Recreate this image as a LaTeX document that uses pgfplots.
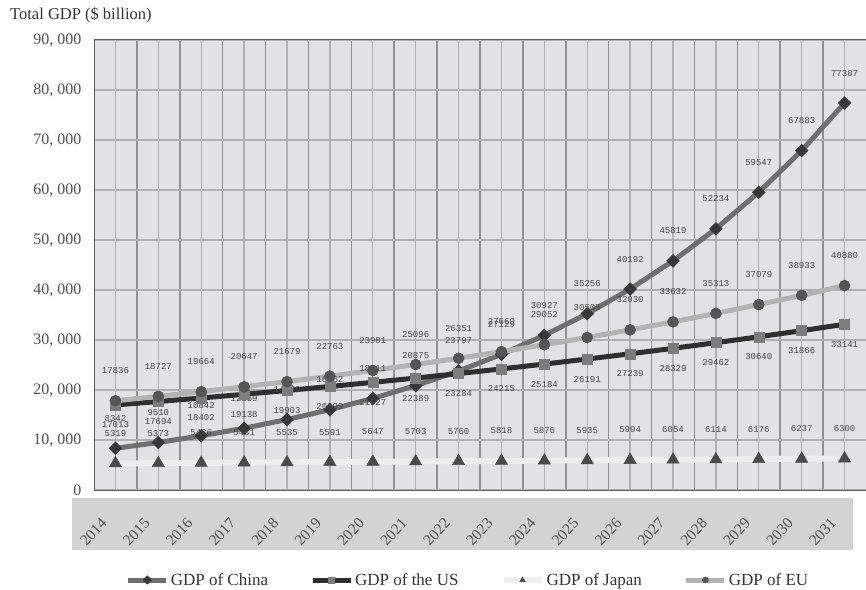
\documentclass[border=0pt]{standalone}
\usepackage{fontspec}
\setmainfont{Liberation Serif}
\setmonofont{Liberation Mono}
\usepackage{pgfplots}
\pgfplotsset{compat=1.18}
\usepackage{pgfplotstable}

\definecolor{plotbg}{HTML}{E2E2E4}
\definecolor{bandgray}{HTML}{D3D3D3}
\definecolor{gridlight}{HTML}{B0B0B2}
\definecolor{griddark}{HTML}{909092}
\definecolor{axisgray}{HTML}{5E5E5E}
\definecolor{tickgray}{HTML}{505050}
\definecolor{titlegray}{HTML}{333333}
\definecolor{labelgray}{HTML}{454545}
\definecolor{chinaline}{HTML}{6F6F6F}
\definecolor{chinamark}{HTML}{383838}
\definecolor{usline}{HTML}{2F2F2F}
\definecolor{usmark}{HTML}{7C7C7C}
\definecolor{japanline}{HTML}{EEEEEE}
\definecolor{japanmark}{HTML}{4A4A4A}
\definecolor{euline}{HTML}{B3B3B3}
\definecolor{eumark}{HTML}{555555}

% GDP in $ billion, year index 0 = 2014
\pgfplotstableread{
idx china us japan eu
0 8342 17013 5319 17836
1 9510 17694 5373 18727
2 10842 18402 5426 19664
3 12359 19138 5481 20647
4 14089 19903 5535 21679
5 16062 20699 5591 22763
6 18311 21527 5647 23901
7 20875 22389 5703 25096
8 23797 23284 5760 26351
9 27129 24215 5818 27669
10 30927 25184 5876 29052
11 35256 26191 5935 30505
12 40192 27239 5994 32030
13 45819 28329 6054 33632
14 52234 29462 6114 35313
15 59547 30640 6176 37079
16 67883 31866 6237 38933
17 77387 33141 6300 40880
}\gdp

\newcommand\labelfont{\ttfamily\fontsize{9}{9}\selectfont}

\begin{document}
\begin{tikzpicture}
\useasboundingbox (0pt,0pt) rectangle (866pt,589pt);

% title
\node[anchor=west, font=\fontsize{16.5}{20}\selectfont, text=titlegray, inner sep=0pt]
  at (10pt,574pt) {Total GDP (\$ billion)};

% band behind the year labels
\fill[bandgray] (72pt,39pt) rectangle (853pt,91pt);

\begin{axis}[
  at={(94pt,99pt)}, anchor=south west,
  scale only axis, width=772pt, height=450pt,
  xmin=-0.5, xmax=17.5, ymin=0, ymax=90000,
  clip=false,
  axis background/.style={fill=plotbg},
  xtick={0,1,2,3,4,5,6,7,8,9,10,11,12,13,14,15,16,17},
  xticklabels={2014,2015,2016,2017,2018,2019,2020,2021,2022,2023,2024,2025,2026,2027,2028,2029,2030,2031},
  minor xtick={0.5,1.5,2.5,3.5,4.5,5.5,6.5,7.5,8.5,9.5,10.5,11.5,12.5,13.5,14.5,15.5,16.5},
  ytick={0,10000,20000,30000,40000,50000,60000,70000,80000,90000},
  yticklabels={0,{10, 000},{20, 000},{30, 000},{40, 000},{50, 000},{60, 000},{70, 000},{80, 000},{90, 000}},
  scaled y ticks=false,
  grid=both,
  major grid style={draw=gridlight, line width=1.4pt},
  minor grid style={draw=griddark, line width=1.6pt},
  tick style={draw=none},
  axis line style={draw=axisgray, line width=1pt},
  yticklabel style={font=\fontsize{16}{16}\selectfont, text=tickgray, xshift=-9pt},
  xticklabel style={font=\fontsize{15.5}{15.5}\selectfont, text=tickgray, xshift=-9pt, yshift=-28pt, rotate=47, anchor=east},
  point meta=explicit symbolic,
  nodes near coords,
  legend columns=4,
  legend style={at={(0.4845,-0.2)}, anchor=center, draw=none, fill=none,
    font=\fontsize{17}{19}\selectfont, text=titlegray,
    /tikz/every even column/.append style={column sep=40pt}},
  legend image code/.code={
    \draw[mark repeat=2, mark phase=2, #1, mark size=3pt]
      plot coordinates {(0pt,0pt) (19pt,0pt) (38pt,0pt)};
  },
]

% China
\addplot[draw=chinaline, line width=5pt, mark=square*, mark size=4.5pt,
  mark options={rotate=45, fill=chinamark, draw=chinamark, line width=0.5pt},
  every node near coord/.append style={anchor=center, yshift=30pt, font=\labelfont, text=labelgray}]
  table[x=idx, y=china, meta=china] {\gdp};
\addlegendentry{GDP of China}

% United States
\addplot[draw=usline, line width=5pt, mark=square*, mark size=5pt,
  mark options={fill=usmark, draw=usmark, line width=0.5pt},
  every node near coord/.append style={anchor=center, yshift=-20pt, font=\labelfont, text=labelgray}]
  table[x=idx, y=us, meta=us] {\gdp};
\addlegendentry{GDP of the US}

% Japan
\addplot[draw=japanline, line width=6pt, mark=triangle*, mark size=7pt,
  mark options={fill=japanmark, draw=japanmark, line width=0.5pt},
  every node near coord/.append style={anchor=center, yshift=30pt, font=\labelfont, text=labelgray}]
  table[x=idx, y=japan, meta=japan] {\gdp};
\addlegendentry{GDP of Japan}

% EU
\addplot[draw=euline, line width=5pt, mark=*, mark size=5.5pt,
  mark options={fill=eumark, draw=eumark, line width=0.5pt},
  every node near coord/.append style={anchor=center, yshift=30pt, font=\labelfont, text=labelgray}]
  table[x=idx, y=eu, meta=eu] {\gdp};
\addlegendentry{GDP of EU}

\end{axis}
\end{tikzpicture}
\end{document}
